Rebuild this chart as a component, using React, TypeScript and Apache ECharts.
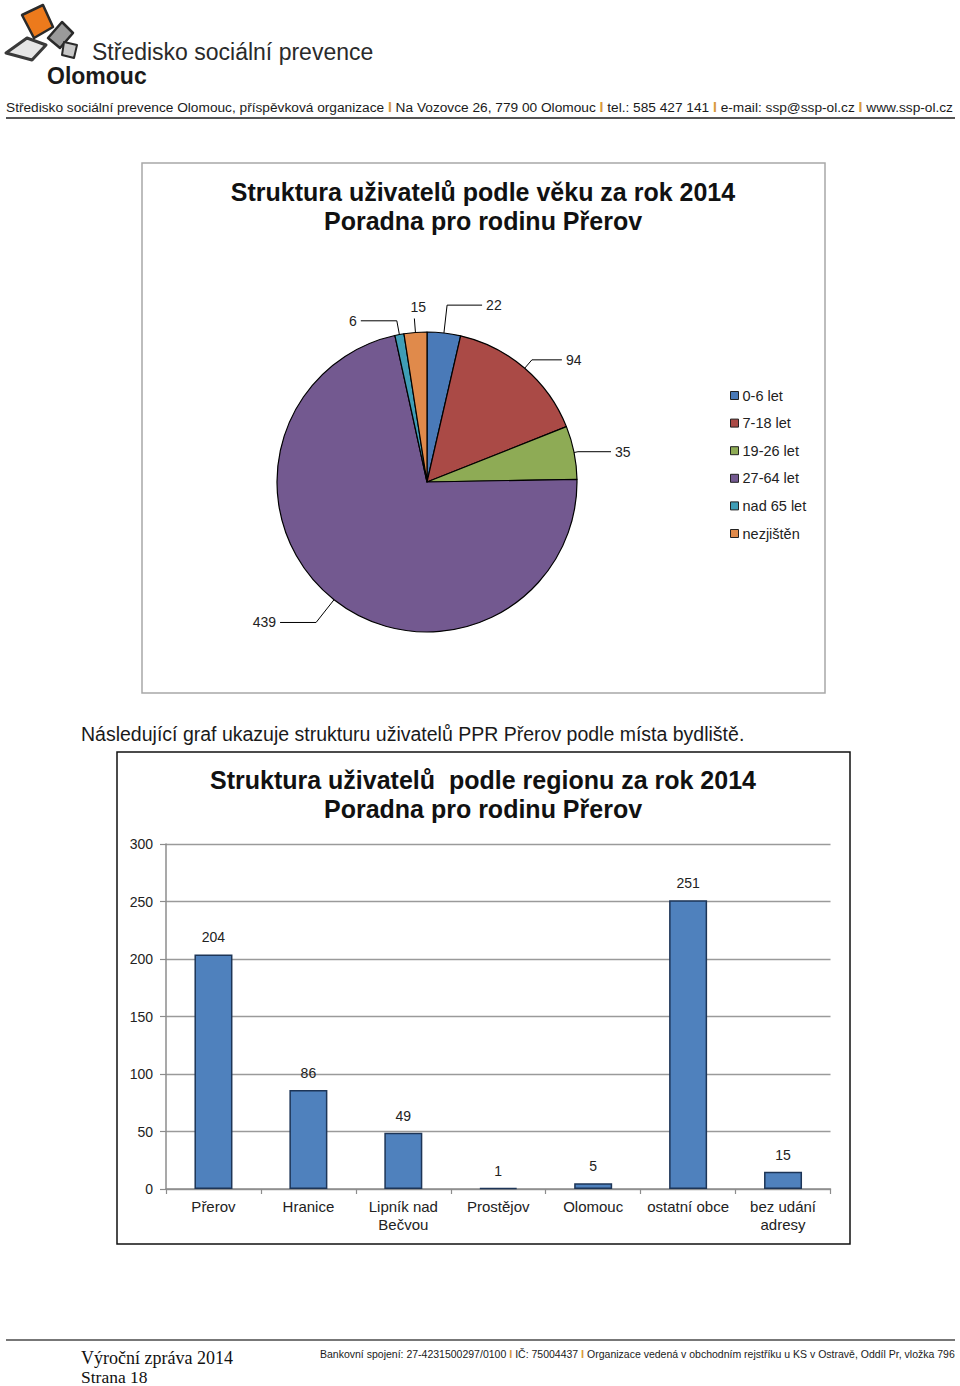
import React, { useEffect, useRef } from "react";
import * as echarts from "echarts";

const ageCategories = ["0-6 let", "7-18 let", "19-26 let", "27-64 let", "nad 65 let", "nezjištěn"];
const ageValues = [22, 94, 35, 439, 6, 15];
const ageColors = ["#4a7ab8", "#aa4a46", "#8eab55", "#735990", "#3f9db6", "#e08a4b"];

const regionCategories = ["Přerov", "Hranice", "Lipník nad\nBečvou", "Prostějov", "Olomouc", "ostatní obce", "bez udání\nadresy"];
const regionValues = [204, 86, 49, 1, 5, 251, 15];
const yMin = 0;
const yMax = 300;
const yInterval = 50;

const pieTitle = ["Struktura uživatelů podle věku za rok 2014", "Poradna pro rodinu Přerov"];
const barTitle = ["Struktura uživatelů  podle regionu za rok 2014", "Poradna pro rodinu Přerov"];
const paragraph = "Následující graf ukazuje strukturu uživatelů PPR Přerov podle místa bydliště.";
const headerParts = [
  "Středisko sociální prevence Olomouc, příspěvková organizace",
  "Na Vozovce 26, 779 00 Olomouc",
  "tel.: 585 427 141",
  "e-mail: ssp@ssp-ol.cz",
  "www.ssp-ol.cz",
];
const footerParts = [
  "Bankovní spojení: 27-4231500297/0100",
  "IČ: 75004437",
  "Organizace vedená v obchodním rejstříku u KS v Ostravě, Oddíl Pr, vložka 796",
];

// label line lengths per slice [length, length2]
const labelLines = [
  [28, 35],
  [11, 30],
  [4, 33],
  [29, 36],
  [14, 36],
  [14, 0],
];

const SANS = "'Liberation Sans', Arial, Helvetica, sans-serif";
const SERIF = "'Liberation Serif', 'Times New Roman', serif";

export default function App() {
  const ref = useRef<HTMLDivElement>(null);
  useEffect(() => {
    if (!ref.current) return;
    const chart = echarts.init(ref.current, undefined, { renderer: "svg" });
    const richJoin = (parts: string[]) => parts.map((p) => `{t|${p}}`).join("{t| }{s|I}{t| }");

    const option: any = {
      animation: false,
      backgroundColor: "#ffffff",
      textStyle: { fontFamily: SANS },
      legend: {
        orient: "vertical",
        left: 730,
        top: 388,
        padding: 0,
        itemWidth: 8,
        itemHeight: 8,
        itemGap: 12.6,
        icon: "rect",
        itemStyle: { borderColor: "#222", borderWidth: 1 },
        textStyle: { fontSize: 14.5, color: "#222", fontFamily: SANS, padding: [0, 0, 0, -1] },
        data: ageCategories,
      },
      grid: { left: 166, right: 129.5, top: 844, bottom: 197, containLabel: false },
      xAxis: {
        type: "category",
        data: regionCategories,
        axisLine: { lineStyle: { color: "#8c8c8c", width: 1.5 } },
        axisTick: { show: true, length: 5, alignWithLabel: false, lineStyle: { color: "#8c8c8c", width: 1.2 } },
        axisLabel: { interval: 0, fontSize: 15, color: "#222", margin: 8, lineHeight: 18, fontFamily: SANS },
      },
      yAxis: {
        type: "value",
        min: yMin,
        max: yMax,
        interval: yInterval,
        axisLine: { show: true, lineStyle: { color: "#8c8c8c", width: 1.5 } },
        axisTick: { show: true, length: 6, lineStyle: { color: "#8c8c8c", width: 1.2 } },
        axisLabel: { fontSize: 14, color: "#222", margin: 13, fontFamily: SANS },
        splitLine: { lineStyle: { color: "#9a9a9a", width: 1.3 } },
      },
      series: [
        {
          type: "pie",
          center: [427, 482],
          radius: 150,
          startAngle: 90,
          clockwise: true,
          avoidLabelOverlap: false,
          itemStyle: { borderColor: "#000", borderWidth: 1.2 },
          label: { show: true, position: "outside", fontSize: 14, color: "#222", fontFamily: SANS, formatter: "{c}", distanceToLabelLine: 4 },
          labelLine: { show: true, lineStyle: { color: "#000", width: 1 } },
          labelLayout: (params: any) => {
            if (params.dataIndex === 5 && params.labelLinePoints) {
              const p = params.labelLinePoints;
              return {
                x: p[1][0] + 4,
                y: p[1][1] - 11,
                align: "center",
                verticalAlign: "middle",
                labelLinePoints: [p[0], p[1], p[1]],
              };
            }
            return {};
          },
          data: ageCategories.map((name, i) => ({
            name,
            value: ageValues[i],
            itemStyle: { color: ageColors[i] },
            labelLine: { length: labelLines[i][0], length2: labelLines[i][1] },
          })),
        },
        {
          type: "bar",
          data: regionValues,
          barWidth: 38,
          itemStyle: { color: "#4f81bd", borderColor: "#1d3557", borderWidth: 1.5 },
          label: { show: true, position: "top", distance: 10, fontSize: 14, color: "#222", fontFamily: SANS },
        },
      ],
      graphic: [
        // logo
        { type: "polygon", shape: { points: [[6, 53], [27, 38], [46, 45], [32, 60]] }, style: { fill: "#e6e6e6", stroke: "#3a3a3a", lineWidth: 3, lineJoin: "round" } },
        { type: "polygon", shape: { points: [[22, 15], [43, 5], [53, 27], [34, 38]] }, style: { fill: "#ec7a1c", stroke: "#2a2a2a", lineWidth: 2.5, lineJoin: "round" } },
        { type: "polygon", shape: { points: [[62, 22], [73, 33], [60, 48], [48, 38]] }, style: { fill: "#9a9a9a", stroke: "#2a2a2a", lineWidth: 2.5, lineJoin: "round" } },
        { type: "polygon", shape: { points: [[64, 42], [77, 45], [74, 58], [62, 55]] }, style: { fill: "#c8c8c8", stroke: "#2a2a2a", lineWidth: 2, lineJoin: "round" } },
        { type: "text", x: 92, y: 52, style: { text: "Středisko sociální prevence", font: `23px ${SANS}`, fill: "#2a2a2a", verticalAlign: "middle" } },
        { type: "text", x: 47, y: 76, style: { text: "Olomouc", font: `bold 23px ${SANS}`, fill: "#1a1a1a", verticalAlign: "middle" } },
        {
          type: "text",
          x: 6,
          y: 107,
          style: {
            text: richJoin(headerParts),
            verticalAlign: "middle",
            rich: {
              t: { fontSize: 13.7, fontFamily: SANS, fill: "#1a1a1a" },
              s: { fontSize: 14, fontFamily: SANS, fill: "#d99a3c", fontWeight: "bold" },
            },
          },
        },
        { type: "line", shape: { x1: 6, y1: 118, x2: 955, y2: 118 }, style: { stroke: "#555", lineWidth: 2 } },
        // pie box
        { type: "rect", shape: { x: 142, y: 163, width: 683, height: 530 }, style: { fill: "none", stroke: "#a8a8a8", lineWidth: 1.5 }, z: -1 },
        { type: "text", x: 483, y: 192, style: { text: pieTitle[0], font: `bold 25px ${SANS}`, fill: "#111", align: "center", verticalAlign: "middle" } },
        { type: "text", x: 483, y: 221, style: { text: pieTitle[1], font: `bold 25px ${SANS}`, fill: "#111", align: "center", verticalAlign: "middle" } },
        { type: "text", x: 81, y: 734, style: { text: paragraph, font: `19.5px ${SANS}`, fill: "#1a1a1a", verticalAlign: "middle" } },
        // bar box
        { type: "rect", shape: { x: 117, y: 752, width: 733, height: 492 }, style: { fill: "none", stroke: "#111", lineWidth: 1.5 }, z: -1 },
        { type: "text", x: 483, y: 780, style: { text: barTitle[0], font: `bold 25px ${SANS}`, fill: "#111", align: "center", verticalAlign: "middle" } },
        { type: "text", x: 483, y: 809, style: { text: barTitle[1], font: `bold 25px ${SANS}`, fill: "#111", align: "center", verticalAlign: "middle" } },
        // footer
        { type: "line", shape: { x1: 6, y1: 1340, x2: 955, y2: 1340 }, style: { stroke: "#777", lineWidth: 2 } },
        { type: "text", x: 81, y: 1358, style: { text: "Výroční zpráva 2014", font: `18px ${SERIF}`, fill: "#111", verticalAlign: "middle" } },
        { type: "text", x: 81, y: 1377, style: { text: "Strana 18", font: `17.5px ${SERIF}`, fill: "#111", verticalAlign: "middle" } },
        {
          type: "text",
          x: 320,
          y: 1354,
          style: {
            text: richJoin(footerParts),
            verticalAlign: "middle",
            rich: {
              t: { fontSize: 10.5, fontFamily: SANS, fill: "#1a1a1a" },
              s: { fontSize: 11, fontFamily: SANS, fill: "#d99a3c", fontWeight: "bold" },
            },
          },
        },
      ],
    };
    chart.setOption(option);
    return () => chart.dispose();
  }, []);
  return <div ref={ref} style={{ position: "absolute", left: 0, top: 0, width: 960, height: 1386, background: "#fff" }} />;
}
